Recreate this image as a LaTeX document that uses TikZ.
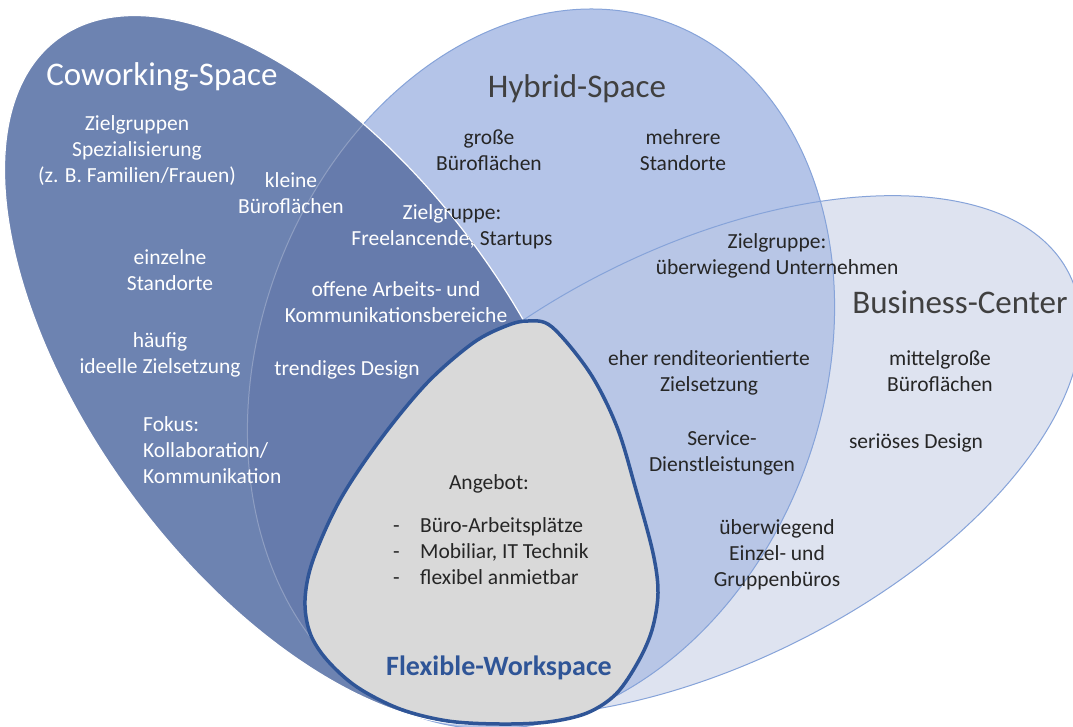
\documentclass[tikz,border=0pt]{standalone}
\usepackage{fontspec}
\setmainfont{Carlito}

\definecolor{cwfill}{HTML}{6D83B1}
\definecolor{lensfill}{HTML}{667BAC}
\definecolor{hyfill}{HTML}{B4C4E8}
\definecolor{hybcfill}{HTML}{B8C6E6}
\definecolor{bcfill}{HTML}{DEE3F0}
\definecolor{edgeblue}{HTML}{86A3D9}
\definecolor{wsfill}{HTML}{D9D9D9}
\definecolor{wsedge}{HTML}{2F5597}
\definecolor{ink}{HTML}{262626}
\definecolor{titleink}{HTML}{404040}

% the three overlapping areas
\newcommand{\cwshape}{(303,370) circle [x radius=412, y radius=212, rotate=-53.5]}
\newcommand{\hyshape}{(541,369) circle [x radius=369, y radius=282, rotate=70]}
\newcommand{\bcshape}{(703,456) circle [x radius=409, y radius=208, rotate=26.4]}

\tikzset{
  body/.style={font=\fontsize{21.5}{26}\selectfont, align=center, inner sep=0pt, text=ink},
  bodylight/.style={body, text=white},
  heading/.style={font=\fontsize{33}{40}\selectfont, inner sep=0pt, text=titleink},
}

\begin{document}
\begin{tikzpicture}[x=1pt, y=-1pt]
\useasboundingbox (0,0) rectangle (1073,727);
\fill[white] (0,0) rectangle (1073,727);

% Business-Center and Hybrid-Space areas
\fill[bcfill] \bcshape;
\fill[hyfill] \hyshape;
\begin{scope}
  \clip \bcshape;
  \fill[hybcfill] \hyshape;
\end{scope}
\draw[edgeblue, line width=1pt] \bcshape;
\draw[edgeblue, line width=1pt] \hyshape;

% Coworking-Space area on top
\fill[cwfill] \cwshape;
\begin{scope}
  \clip \cwshape;
  \fill[lensfill] \hyshape;
  \draw[white, opacity=0.25, line width=1pt] \hyshape;
\end{scope}
\draw[white, line width=1.2pt] \cwshape;

% Flexible-Workspace drop
\draw[wsedge, fill=wsfill, line width=3.5pt]
  plot[smooth cycle, tension=0.55] coordinates {
    (528,321) (552,327) (590,373) (617,427) (636,490) (653,553)
    (658,593) (652,630) (638,662) (616,694) (587,713) (548,722)
    (500,724) (448,721) (400,709) (357,687) (327,660) (310,633)
    (305,600) (313,560) (340,500) (380,440) (427,383) (473,343) (506,326)};

% Coworking-Space texts
\node[heading, text=white] (cwtitle) at (162,77) {Coworking-Space};
\node[bodylight] (cw1) at (137,151) {Zielgruppen\\Spezialisierung\\(z. B. Familien/Frauen)};
\node[bodylight] (cw2) at (291,193) {kleine\\Büroflächen};
\node[bodylight] (cw3) at (170,270) {einzelne\\Standorte};
\node[bodylight] (cw4) at (160,355) {häufig\\ideelle Zielsetzung};
\node[bodylight, align=left, anchor=west] (cw5) at (143,450) {Fokus:\\Kollaboration/\\Kommunikation};
\node[bodylight] (cw6) at (396,302) {offene Arbeits- und\\Kommunikationsbereiche};
\node[bodylight] (cw7) at (347,370) {trendiges Design};

% target group label crossing the Coworking border
\begin{scope}
  \clip \cwshape;
  \node[bodylight] (tgw) at (452,227) {Zielgruppe:\\Freelancende, Startups};
\end{scope}
\begin{scope}[even odd rule]
  \clip (0,0) rectangle (1073,727) \cwshape;
  \node[body] (tgb) at (452,227) {Zielgruppe:\\Freelancende, Startups};
\end{scope}

% Hybrid-Space texts
\node[heading] (hytitle) at (577,89) {Hybrid-Space};
\node[body] (hy1) at (489,150) {große\\Büroflächen};
\node[body] (hy2) at (683,150) {mehrere\\Standorte};
\node[body] (hy3) at (777,256) {Zielgruppe:\\überwiegend Unternehmen};
\node[body] (hy4) at (709,373) {eher renditeorientierte\\Zielsetzung};
\node[body] (hy5) at (722,453) {Service-\\Dienstleistungen};
\node[body] (hy6) at (777,555) {überwiegend\\Einzel- und\\Gruppenbüros};

% Business-Center texts
\node[heading] (bctitle) at (960,302) {Business-Center};
\node[body] (bc1) at (940,371) {mittelgroße\\Büroflächen};
\node[body] (bc2) at (916,443) {seriöses Design};

% Flexible-Workspace texts
\node[body] (ws1) at (489,484) {Angebot:};
\node[body, align=left, anchor=west] (ws2) at (393,551)
  {\makebox[27pt][l]{-}Büro-Arbeitsplätze\\\makebox[27pt][l]{-}Mobiliar, IT Technik\\\makebox[27pt][l]{-}flexibel anmietbar};
\node[font=\bfseries\fontsize{28}{34}\selectfont, text=wsedge, inner sep=0pt] (wstitle) at (499,668) {Flexible-Workspace};
\end{tikzpicture}
\end{document}
